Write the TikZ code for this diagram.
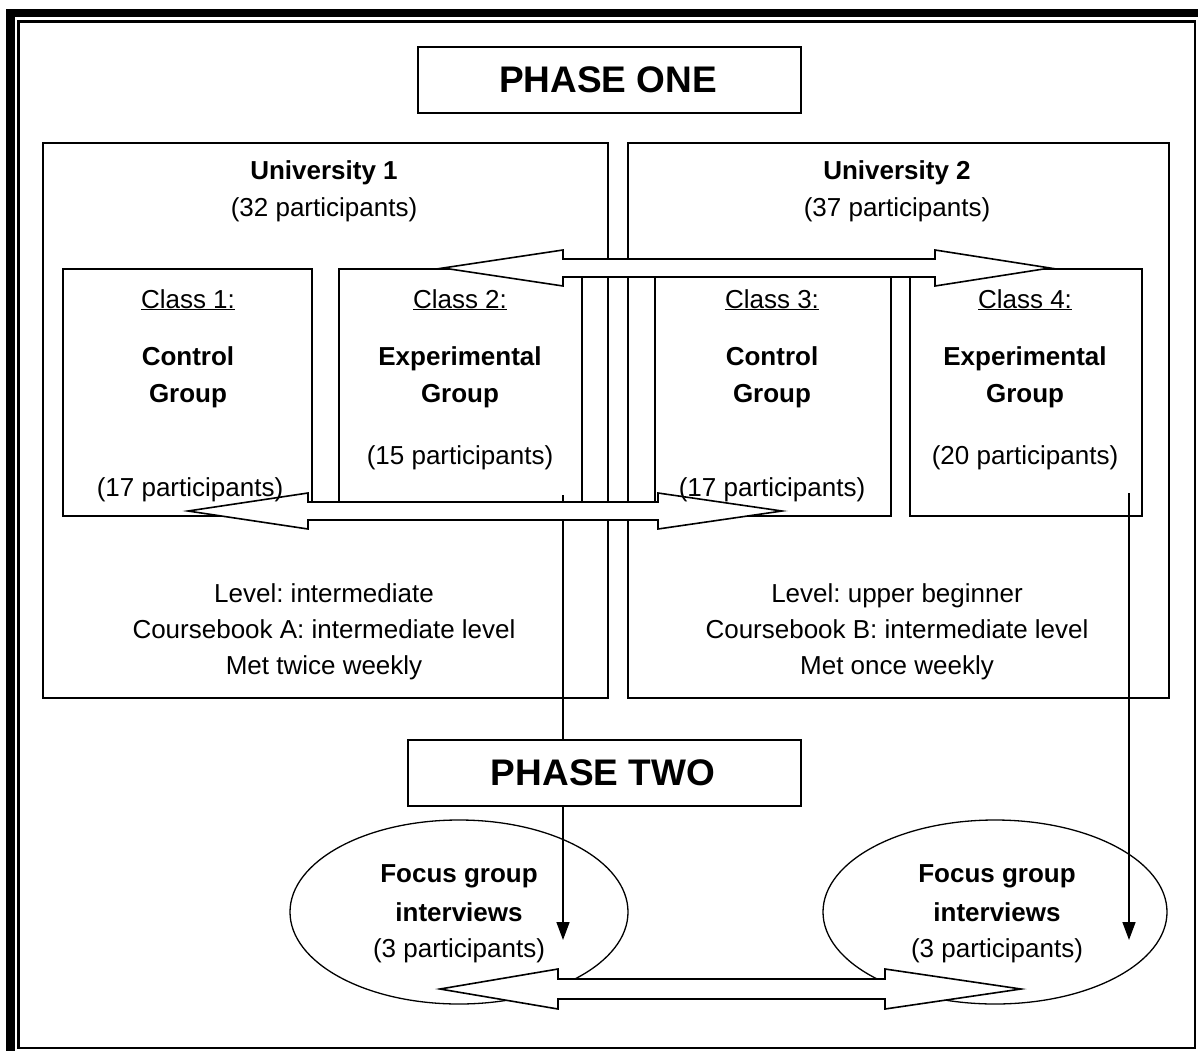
\documentclass[tikz,border=0pt]{standalone}
\usepackage{fontspec}
\setmainfont{Liberation Sans}
\usetikzlibrary{arrows.meta,shapes.geometric}
\frenchspacing
\begin{document}
\begin{tikzpicture}[x=1pt,y=-1pt,
  txt/.style={inner sep=0pt, anchor=base, font=\fontsize{26}{30}\selectfont},
  btxt/.style={inner sep=0pt, anchor=base, font=\fontsize{26}{30}\selectfont\bfseries},
  ptxt/.style={inner sep=0pt, anchor=base, font=\fontsize{37}{42}\selectfont\bfseries},
  phasebox/.style={draw, line width=2pt, fill=white, inner sep=0pt, anchor=north west},
  boxx/.style={draw, line width=1.6pt, inner sep=0pt, anchor=north west},
  blockarrow/.style={draw, line width=1.6pt, fill=white, line join=miter},
  flow/.style={line width=1.6pt, -{Triangle[length=18pt,width=13pt]}},
  oval/.style={draw, ellipse, line width=1.3pt, inner sep=0pt}
]
\useasboundingbox (0,0) rectangle (1198,1051);
% frame
\fill[black] (6,9) rectangle (15,1051);
\fill[black] (6,9) rectangle (1198,17);
\draw[line width=2.5pt] (18.7,21.5) rectangle (1195,1048);

% universities
\node[boxx, minimum width=565pt, minimum height=555pt] (u1) at (42,142) {};
\node[boxx, minimum width=541pt, minimum height=555pt] (u2) at (627,142) {};

% classes
\node[boxx, minimum width=249pt, minimum height=247pt] (c1) at (62,268) {};
\node[boxx, minimum width=243pt, minimum height=247pt] (c2) at (338,268) {};
\node[boxx, minimum width=236pt, minimum height=247pt] (c3) at (654,268) {};
\node[boxx, minimum width=232pt, minimum height=247pt] (c4) at (909,268) {};

% university texts
\node[btxt] (u1t) at (324,179) {University 1};
\node[txt] (u1p) at (324,216) {(32 participants)};
\node[btxt] (u2t) at (897,179) {University 2};
\node[txt] (u2p) at (897,216) {(37 participants)};

\node[txt] (u1a) at (324,602) {Level: intermediate};
\node[txt] (u1b) at (324,638) {Coursebook A: intermediate level};
\node[txt] (u1c) at (324,674) {Met twice weekly};
\node[txt] (u2a) at (897,602) {Level: upper beginner};
\node[txt] (u2b) at (897,638) {Coursebook B: intermediate level};
\node[txt] (u2c) at (897,674) {Met once weekly};

% ellipses
\node[oval, minimum width=338pt, minimum height=184pt] (e1) at (459,912) {};
\node[oval, minimum width=344pt, minimum height=184pt] (e2) at (995,912) {};
\node[btxt] (e1a) at (459,882) {Focus group};
\node[btxt] (e1b) at (459,921) {interviews};
\node[txt] (e1c) at (459,957) {(3 participants)};
\node[btxt] (e2a) at (997,882) {Focus group};
\node[btxt] (e2b) at (997,921) {interviews};
\node[txt] (e2c) at (997,957) {(3 participants)};

% vertical flow arrows
\coordinate (v1s) at (563,495);
\coordinate (v1e) at (563,940);
\coordinate (v2s) at (1129,493);
\coordinate (v2e) at (1129,940);
\draw[flow] (v1s) -- (v1e);
\draw[flow] (v2s) -- (v2e);

% block arrows
\draw[blockarrow] (443,268) -- (563,250) -- (563,259) -- (935,259) -- (935,250) -- (1050,268)
  -- (935,286) -- (935,277) -- (563,277) -- (563,286) -- cycle;
\draw[blockarrow] (188,511) -- (308,493) -- (308,502) -- (658,502) -- (658,493) -- (782,511)
  -- (658,529) -- (658,520) -- (308,520) -- (308,529) -- cycle;

% class texts
\node[txt] (c1a) at (188,308) {\underline{Class 1:}};
\node[btxt] (c1b) at (188,365) {Control};
\node[btxt] (c1c) at (188,402) {Group};
\node[txt] (c1d) at (190,496) {(17 participants)};

\node[txt] (c2a) at (460,308) {\underline{Class 2:}};
\node[btxt] (c2b) at (460,365) {Experimental};
\node[btxt] (c2c) at (460,402) {Group};
\node[txt] (c2d) at (460,464) {(15 participants)};

\node[txt] (c3a) at (772,308) {\underline{Class 3:}};
\node[btxt] (c3b) at (772,365) {Control};
\node[btxt] (c3c) at (772,402) {Group};
\node[txt] (c3d) at (772,496) {(17 participants)};

\node[txt] (c4a) at (1025,308) {\underline{Class 4:}};
\node[btxt] (c4b) at (1025,365) {Experimental};
\node[btxt] (c4c) at (1025,402) {Group};
\node[txt] (c4d) at (1025,464) {(20 participants)};

% phase boxes
\node[phasebox, minimum width=383pt, minimum height=66pt] (p1) at (417,46) {};
\node[ptxt] (p1t) at (608,93) {PHASE ONE};
\node[phasebox, minimum width=393pt, minimum height=66pt] (p2) at (407,739) {};
\node[ptxt] (p2t) at (603,785) {PHASE TWO};

% bottom block arrow
\draw[blockarrow] (440,989) -- (558,969) -- (558,979) -- (885,979) -- (885,969) -- (1021,989)
  -- (885,1009) -- (885,999) -- (558,999) -- (558,1009) -- cycle;
\end{tikzpicture}
\end{document}
